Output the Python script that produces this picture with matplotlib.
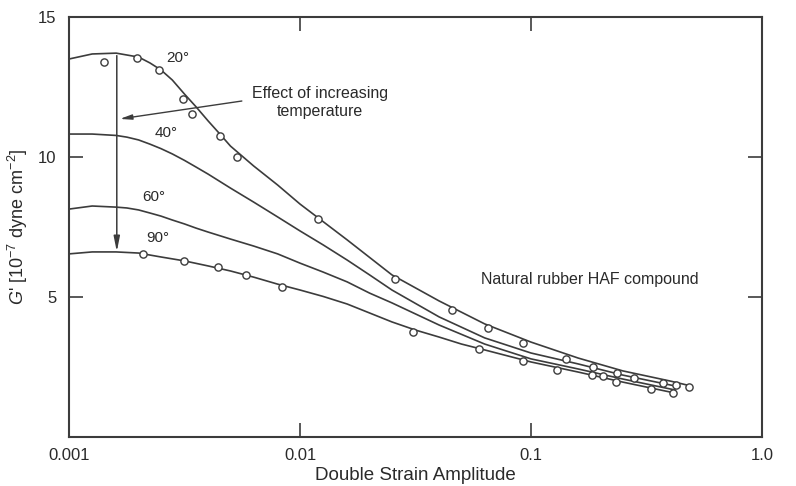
import matplotlib
matplotlib.use("Agg")
import matplotlib.pyplot as plt

plt.rcParams['font.family'] = ['Liberation Sans', 'DejaVu Sans']
plt.rcParams['mathtext.fontset'] = 'custom'
plt.rcParams['mathtext.rm'] = 'Liberation Sans'
plt.rcParams['mathtext.it'] = 'Liberation Sans:italic'

# Curvas suavizadas
x_20 = [0.001, 0.00126, 0.0016, 0.002, 0.00224, 0.0025, 0.0028, 0.00316, 0.00355, 0.004,
        0.0045, 0.005, 0.0063, 0.008, 0.01, 0.016, 0.025, 0.04, 0.063, 0.1,
        0.16, 0.25, 0.4, 0.483]
g_20 = [13.5, 13.68, 13.71, 13.57, 13.36, 13.11, 12.75, 12.25, 11.79, 11.29,
        10.82, 10.39, 9.68, 9.0, 8.32, 7.04, 5.79, 4.86, 4.04, 3.39,
        2.82, 2.36, 2.0, 1.84]

x_40 = [0.001, 0.00126, 0.0016, 0.00178, 0.002, 0.00224, 0.0025, 0.0028, 0.00316, 0.00355,
        0.004, 0.005, 0.0063, 0.008, 0.01, 0.0126, 0.016, 0.02, 0.025, 0.04,
        0.063, 0.1, 0.16, 0.25, 0.4, 0.44]
g_40 = [10.82, 10.82, 10.77, 10.71, 10.61, 10.46, 10.30, 10.11, 9.88, 9.64,
        9.39, 8.89, 8.39, 7.86, 7.36, 6.86, 6.32, 5.79, 5.25, 4.29,
        3.54, 3.0, 2.61, 2.21, 1.86, 1.79]

x_60 = [0.001, 0.00126, 0.0016, 0.00178, 0.002, 0.00224, 0.0025, 0.0028, 0.00316, 0.00355,
        0.004, 0.005, 0.0063, 0.008, 0.01, 0.0126, 0.016, 0.02, 0.025, 0.04,
        0.063, 0.1, 0.16, 0.25, 0.42]
g_60 = [8.14, 8.25, 8.21, 8.18, 8.11, 8.0, 7.89, 7.75, 7.61, 7.46,
        7.32, 7.07, 6.82, 6.54, 6.21, 5.89, 5.54, 5.14, 4.79, 4.0,
        3.32, 2.79, 2.43, 2.07, 1.68]

x_90 = [0.001, 0.00126, 0.0016, 0.002, 0.0025, 0.00316, 0.004, 0.005, 0.0063, 0.008,
        0.01, 0.0126, 0.016, 0.02, 0.025, 0.0316, 0.04, 0.05, 0.063, 0.1,
        0.16, 0.25, 0.42]
g_90 = [6.54, 6.61, 6.61, 6.57, 6.43, 6.29, 6.11, 5.93, 5.71, 5.46,
        5.25, 5.02, 4.75, 4.43, 4.11, 3.82, 3.57, 3.32, 3.11, 2.68,
        2.32, 1.96, 1.57]

# Puntos medidos
pts_x_20 = [0.00142, 0.00197, 0.00245, 0.00312, 0.00341, 0.00451, 0.00534, 0.0120, 0.0258,
            0.0455, 0.0652, 0.0924, 0.142, 0.186, 0.236, 0.279, 0.373, 0.424, 0.483]
pts_g_20 = [13.39, 13.54, 13.11, 12.07, 11.54, 10.75, 10.0, 7.79, 5.64,
            4.54, 3.89, 3.36, 2.79, 2.5, 2.29, 2.11, 1.93, 1.86, 1.79]

pts_x_90 = [0.00209, 0.00315, 0.00442, 0.00584, 0.00836, 0.0309, 0.0596, 0.0924,
            0.130, 0.184, 0.205, 0.233, 0.331, 0.412]
pts_g_90 = [6.54, 6.29, 6.07, 5.79, 5.36, 3.75, 3.14, 2.71,
            2.39, 2.21, 2.18, 1.96, 1.71, 1.57]

temp_labels = ['20°', '40°', '60°', '90°']
temp_label_x = [0.00296, 0.00263, 0.00233, 0.00243]
temp_label_y = [13.54, 10.86, 8.57, 7.11]

line_c = '#3c3c3c'
text_c = '#2a2a2a'

fig = plt.figure(figsize=(7.96, 4.86), dpi=100)
ax = fig.add_axes([0.0867, 0.1008, 0.8706, 0.8642])

for xs, ys in [(x_20, g_20), (x_40, g_40), (x_60, g_60), (x_90, g_90)]:
    ax.plot(xs, ys, color=line_c, lw=1.2, solid_joinstyle='round')

for xs, ys in [(pts_x_20, pts_g_20), (pts_x_90, pts_g_90)]:
    ax.plot(xs, ys, ls='none', marker='o', ms=5.2, mfc='white', mec=line_c, mew=1.0)

for lab, tx, ty in zip(temp_labels, temp_label_x, temp_label_y):
    ax.text(tx, ty, lab, ha='center', va='center', fontsize=11, color=text_c)

# Flecha vertical (efecto de la temperatura)
ax.annotate('', xy=(0.00161, 6.62), xytext=(0.00161, 13.62),
            arrowprops=dict(arrowstyle='-|>,head_width=0.18,head_length=0.9',
                            color=line_c, lw=1.1, shrinkA=0, shrinkB=0))
ax.annotate('', xy=(0.00166, 11.36), xytext=(0.0056, 12.0),
            arrowprops=dict(arrowstyle='-|>,head_width=0.15,head_length=0.7',
                            color=line_c, lw=1.0, shrinkA=0, shrinkB=0))
ax.text(0.0122, 11.96, 'Effect of increasing\ntemperature', ha='center', va='center',
        fontsize=11.5, color=text_c, linespacing=1.25)
ax.text(0.18, 5.64, 'Natural rubber HAF compound', ha='center', va='center',
        fontsize=11.5, color=text_c)

ax.set_xscale('log')
ax.set_xlim(0.001, 1.0)
ax.set_ylim(0, 15)
ax.set_xticks([0.001, 0.01, 0.1, 1.0])
ax.set_xticklabels(['0.001', '0.01', '0.1', '1.0'])
ax.set_yticks([5, 10, 15])
ax.set_yticklabels(['5', '10', '15'])
ax.minorticks_off()
ax.tick_params(axis='both', direction='in', length=10, width=1.2, color=line_c,
               labelsize=12, labelcolor=text_c, top=True, right=True)
ax.tick_params(axis='x', pad=8)
ax.tick_params(axis='y', pad=9)
for s in ax.spines.values():
    s.set_linewidth(1.5)
    s.set_color(line_c)

ax.set_xlabel('Double Strain Amplitude', fontsize=13.5, color=text_c, labelpad=3)
ax.set_ylabel(r"$G$' [10$^{-7}$ dyne cm$^{-2}$]", fontsize=13, color=text_c, labelpad=6)

fig.savefig('out.png', dpi=100)
plt.close(fig)
